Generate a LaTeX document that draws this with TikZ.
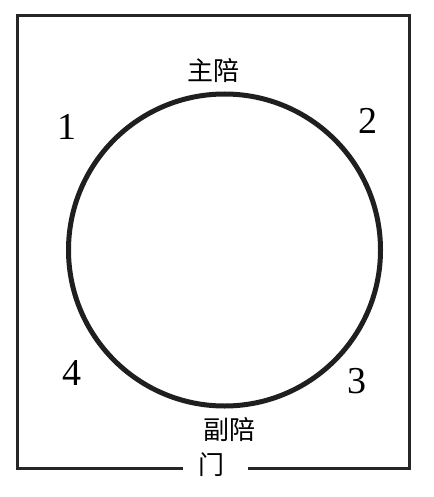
\documentclass[tikz,border=0pt]{standalone}
\usepackage{fontspec}
\newfontfamily\cjk{Noto Sans CJK SC}
\newfontfamily\numfont{Liberation Serif}
\begin{document}
\begin{tikzpicture}[x=1pt,y=-1pt,
  cjklabel/.style={font=\cjk\fontsize{26}{26}\selectfont, inner sep=0pt},
  numlabel/.style={font=\numfont\fontsize{38}{38}\selectfont, inner sep=0pt},
  wall/.style={line width=3pt, black!85}]
\useasboundingbox (0,0) rectangle (433,497);
\coordinate (c) at (224.5,250);
\draw[line width=5pt, black!88] (c) circle (156);
\coordinate (gl) at (183,468);
\coordinate (gr) at (248,468);
\draw[wall] (gl) -- (17,468) -- (17,16) -- (409,16) -- (409,468) -- (gr);
\node[cjklabel] (zhu) at (213,71) {主陪};
\node[cjklabel] (fu) at (229,430) {副陪};
\node[cjklabel] (men) at (211,465) {门};
\node[numlabel] (n1) at (67,127) {1};
\node[numlabel] (n2) at (368,121) {2};
\node[numlabel] (n3) at (357,381) {3};
\node[numlabel] (n4) at (72,373) {4};
\end{tikzpicture}
\end{document}
